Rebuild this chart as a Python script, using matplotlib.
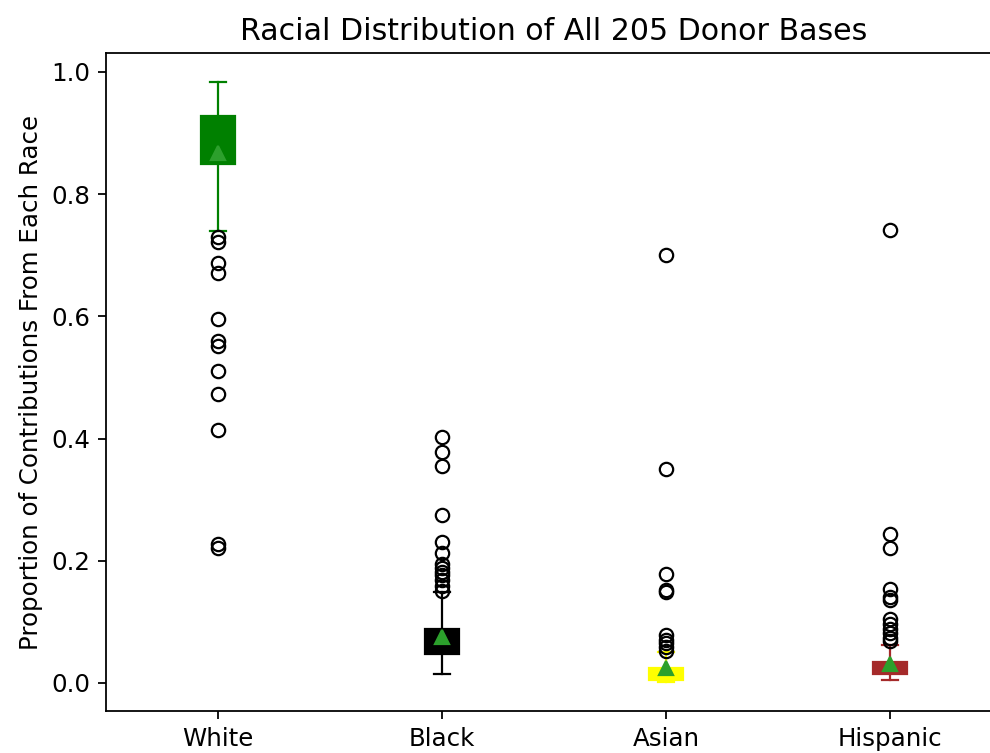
import numpy as np
import matplotlib.pyplot as plt

plt.rcParams['font.size'] = 11

races = ['White', 'Black', 'Asian', 'Hispanic']
colors = ['green', 'black', 'yellow', 'brown']

# box stats (proportion of contributions)
q1 = [0.849, 0.047, 0.005, 0.014]
med = [0.895, 0.065, 0.012, 0.022]
q3 = [0.928, 0.088, 0.025, 0.035]
whislo = [0.739, 0.015, 0.002, 0.004]
whishi = [0.983, 0.149, 0.050, 0.062]
means = [0.867, 0.075, 0.024, 0.031]

fliers_white = [0.730, 0.722, 0.687, 0.671, 0.596, 0.560, 0.551, 0.511, 0.473, 0.414, 0.228, 0.220]
fliers_black = [0.403, 0.378, 0.355, 0.274, 0.230, 0.212, 0.195, 0.188, 0.182, 0.176, 0.168, 0.158, 0.151]
fliers_asian = [0.700, 0.350, 0.179, 0.152, 0.149, 0.078, 0.070, 0.065, 0.058, 0.052]
fliers_hisp = [0.741, 0.243, 0.220, 0.153, 0.141, 0.135, 0.105, 0.097, 0.089, 0.081, 0.073, 0.068]
fliers = [fliers_white, fliers_black, fliers_asian, fliers_hisp]

stats = []
for i in range(len(races)):
    stats.append(dict(label=races[i], q1=q1[i], med=med[i], q3=q3[i],
                      whislo=whislo[i], whishi=whishi[i], mean=means[i],
                      fliers=fliers[i]))

dpi = 160
fig = plt.figure(figsize=(990 / dpi, 753 / dpi), dpi=dpi)
# axes runs past the right edge of the picture, like the cropped original
ax = fig.add_axes([106 / 990, 42 / 753, 896 / 990, 658 / 753])

bp = ax.bxp(stats, widths=0.15, patch_artist=True, showmeans=True)
for i, c in enumerate(colors):
    bp['boxes'][i].set_facecolor(c)
    bp['boxes'][i].set_edgecolor(c)
    bp['medians'][i].set_color(c)
    for j in (2 * i, 2 * i + 1):
        bp['whiskers'][j].set_color(c)
        bp['caps'][j].set_color(c)

ax.set_xlim(0.5, 4.5)
ax.set_ylim(-0.046, 1.031)
ax.set_yticks([0.0, 0.2, 0.4, 0.6, 0.8, 1.0])
ax.spines['right'].set_visible(False)
ax.set_title("Racial Distribution of All 205 Donor Bases", fontsize=13.5)
ax.set_ylabel("Proportion of Contributions From Each Race")

fig.savefig('out.png', dpi=dpi)
